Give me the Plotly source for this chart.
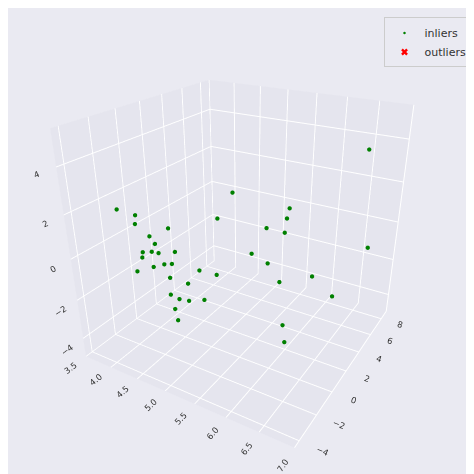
import plotly.graph_objects as go

x_in = [3.7,3.8,3.9,4.0,4.1,4.1,4.2,4.2,4.3,4.3,4.4,4.4,4.5,4.6,4.7,4.8,4.9,5.0,5.0,5.1,5.1,5.2,5.2,5.3,5.3,5.4,5.5,5.6,5.7,5.8,6.0,6.2,6.3,6.5,6.6,4.9,5.0,5.4,5.8,6.1,6.4]
y_in = [-1.5,-0.5,-1.0,-1.0,-1.5,-2.0,-1.2,-0.8,-1.5,-1.0,-0.5,-2.0,-1.5,-1.0,-1.8,-2.5,-3.0,-2.8,-3.2,-3.5,-2.5,-3.0,-2.0,-2.2,-1.0,2.0,3.0,2.5,4.0,3.5,1.0,0.0,-0.5,8.0,8.5,1.5,2.5,2.0,3.0,4.5,5.0]
z_in = [1.5,1.0,0.8,-0.5,-0.5,-1.0,0.5,0.0,-0.8,-0.3,0.8,0.2,-0.5,0.0,-0.2,-0.5,-1.0,-1.2,-1.5,-1.8,-0.5,-1.0,0.0,-1.2,-0.5,-0.5,0.5,-1.0,0.8,1.5,-1.0,-2.5,-3.0,3.5,-1.5,1.0,2.0,-0.5,0.5,-2.0,-3.0]
x_out = [None]
y_out = [None]
z_out = [None]

fig = go.Figure()
fig.add_trace(go.Scatter3d(x=x_in, y=y_in, z=z_in, mode="markers", name="inliers",
                           marker=dict(size=2.5, color="green", line=dict(width=0))))
fig.add_trace(go.Scatter3d(x=x_out, y=y_out, z=z_out, mode="markers", name="outliers",
                           marker=dict(size=6, color="red", symbol="x"), showlegend=True))
ax = dict(backgroundcolor="#e5e5ee", showbackground=True, gridcolor="white", zeroline=False,
          showspikes=False, title="", tickfont=dict(size=10, color="#333"))
fig.update_layout(
    width=474, height=474, paper_bgcolor="#eaeaf2", margin=dict(l=0, r=0, t=0, b=0),
    font=dict(family="DejaVu Sans", size=11, color="#333"),
    legend=dict(x=0.98, y=0.98, xanchor="right", yanchor="top", bgcolor="#eaeaf2",
                bordercolor="#cccccc", borderwidth=1),
    scene=dict(
        xaxis=dict(ax, range=[3.5, 7.0], tickvals=[3.5,4,4.5,5,5.5,6,6.5,7], ticktext=["3.5","4.0","4.5","5.0","5.5","6.0","6.5","7.0"]),
        yaxis=dict(ax, range=[-4.5, 9], tickvals=[-4,-2,0,2,4,6,8]),
        zaxis=dict(ax, range=[-5, 5.5], tickvals=[-4,-2,0,2,4]),
        aspectmode="cube",
        camera=dict(eye=dict(x=1.1, y=-1.85, z=1.05), center=dict(x=0, y=0, z=-0.05)),
    ),
)
fig.write_html("out.html")
